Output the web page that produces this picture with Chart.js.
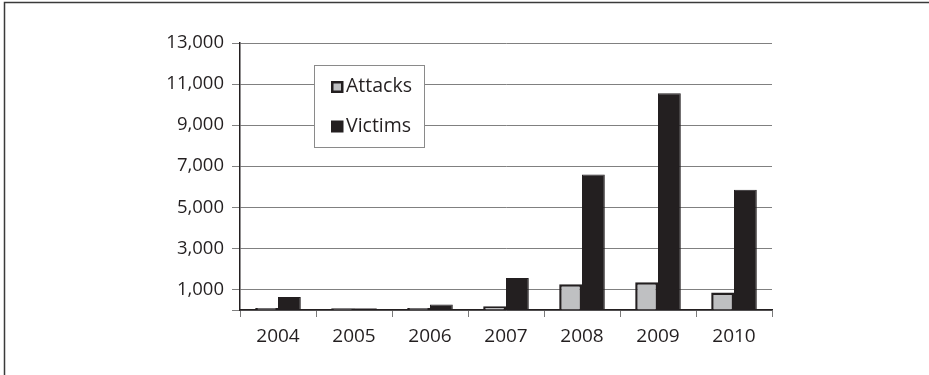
<!DOCTYPE html>
<html>
<head>
<meta charset="utf-8">
<script src="https://cdn.jsdelivr.net/npm/chart.js@4/dist/chart.umd.min.js"></script>
<style>
  html, body { margin: 0; padding: 0; background: #ffffff; }
  #wrap { position: relative; width: 929px; height: 375px; }
  canvas { display: block; }
</style>
</head>
<body>
<div id="wrap"><canvas id="chart" width="929" height="375"></canvas></div>
<script>
// Categories and series
const years = ['2004', '2005', '2006', '2007', '2008', '2009', '2010'];
const attacks = [100, 80, 100, 180, 1250, 1350, 850];
const victims = [630, 90, 270, 1560, 6600, 10550, 5850];
// Value-axis ticks (0 is the baseline and carries no label)
const yTicks = [0, 1000, 3000, 5000, 7000, 9000, 11000, 13000];

const INK = '#231f20';
const GRID = '#808080';
const FONT = '"Open Sans", "Liberation Sans", Arial, sans-serif';

// Outer frame lines along the top and left edges
const framePlugin = {
  id: 'frame',
  beforeDraw(chart) {
    const ctx = chart.ctx;
    ctx.save();
    ctx.strokeStyle = '#3a3a3a';
    ctx.lineWidth = 1.5;
    ctx.beginPath();
    ctx.moveTo(4.5, 375);
    ctx.lineTo(4.5, 2.5);
    ctx.lineTo(929, 2.5);
    ctx.stroke();
    ctx.restore();
  }
};

// Boxed legend placed inside the plot area
const boxLegend = {
  id: 'boxLegend',
  afterDraw(chart) {
    const ctx = chart.ctx;
    const x = 314.5, y = 65.5, w = 110, h = 82;
    ctx.save();
    ctx.fillStyle = '#ffffff';
    ctx.fillRect(x, y, w, h);
    ctx.strokeStyle = '#8a8a8a';
    ctx.lineWidth = 1;
    ctx.strokeRect(x, y, w, h);
    chart.data.datasets.forEach((ds, i) => {
      const my = 81 + i * 39.5;
      const mx = 331;
      ctx.fillStyle = ds.borderColor;
      ctx.fillRect(mx, my, 12.5, 12);
      if (ds.backgroundColor !== ds.borderColor) {
        ctx.fillStyle = ds.backgroundColor;
        ctx.fillRect(mx + 2.5, my + 2.5, 7.5, 7);
      }
      ctx.fillStyle = INK;
      ctx.font = '19.5px ' + FONT;
      ctx.textBaseline = 'alphabetic';
      ctx.textAlign = 'left';
      ctx.fillText(ds.label, 346, my + 11);
    });
    ctx.restore();
  }
};

new Chart(document.getElementById('chart'), {
  type: 'bar',
  data: {
    labels: years,
    datasets: [
      {
        label: 'Attacks',
        data: attacks,
        backgroundColor: '#bfc0c2',
        borderColor: INK,
        borderWidth: 2.5
      },
      {
        label: 'Victims',
        data: victims,
        backgroundColor: INK,
        borderColor: INK,
        borderWidth: 1
      }
    ]
  },
  options: {
    responsive: false,
    animation: false,
    devicePixelRatio: 1,
    layout: { padding: { top: 43, right: 157, bottom: 0, left: 0 } },
    datasets: {
      bar: { categoryPercentage: 0.6, barPercentage: 1.0 }
    },
    plugins: {
      legend: { display: false },
      tooltip: { enabled: false }
    },
    scales: {
      x: {
        offset: true,
        grid: {
          offset: true,
          drawOnChartArea: false,
          tickLength: 7,
          tickColor: '#7a7a7a',
          lineWidth: 1
        },
        border: { color: INK, width: 1.5 },
        ticks: {
          color: INK,
          font: { family: FONT, size: 19 },
          padding: 8,
          maxRotation: 0
        },
        afterFit(scale) { scale.height = 65; }
      },
      y: {
        min: 0,
        max: 13000,
        afterBuildTicks(scale) {
          scale.ticks = yTicks.map(v => ({ value: v }));
        },
        grid: {
          color: GRID,
          tickColor: GRID,
          tickLength: 8,
          lineWidth: 1
        },
        border: { color: INK, width: 1.5 },
        ticks: {
          color: INK,
          font: { family: FONT, size: 18.5 },
          padding: 8,
          callback(v) { return v === 0 ? '' : v.toLocaleString('en-US'); }
        },
        afterFit(scale) { scale.width = 240; }
      }
    }
  },
  plugins: [framePlugin, boxLegend]
});
</script>
</body>
</html>
